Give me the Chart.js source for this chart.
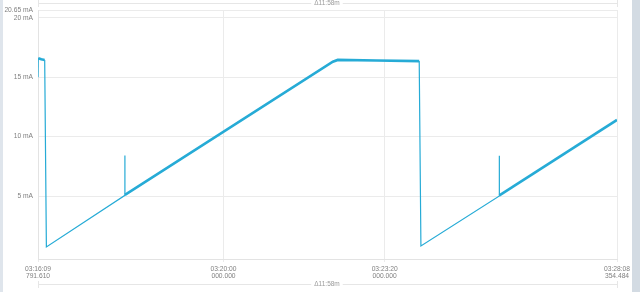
<!DOCTYPE html>
<html>
<head>
<meta charset="utf-8">
<script src="https://cdn.jsdelivr.net/npm/chart.js@4"></script>
<style>
html,body{margin:0;padding:0;background:#fff;width:640px;height:292px;overflow:hidden;}
#wrap{position:relative;width:640px;height:292px;}
#leftbar{position:absolute;left:0;top:0;width:3px;height:292px;background:#dfe5ec;}
#rightbar{position:absolute;left:632px;top:0;width:8px;height:292px;background:#d3dbe3;}
canvas{position:absolute;left:0;top:0;}
</style>
</head>
<body>
<div id="wrap">
<canvas id="c" width="640" height="292"></canvas>
<div id="leftbar"></div>
<div id="rightbar"></div>
</div>
<script>
// ---- data (time in seconds since midnight, current in mA) ----
const times = [11769.79, 11770.09, 11773.8, 11778.1, 11780.2,
               11877.5, 11877.6, 11877.7, 12135.7, 12141.8, 12189.8, 12242.9, 12245.0,
               12342.2, 12342.3, 12342.4, 12488.35];
const currents = [15.0, 16.6, 16.5, 16.45, 0.72,
                  5.05, 8.4, 5.1, 16.3, 16.45, 16.4, 16.35, 0.8,
                  5.0, 8.38, 5.05, 11.4];
const xTickValues = [11769.79161, 12000, 12200, 12488.354484];
const xTickLabels = [["03:16:09", "791.610"], ["03:20:00", "000.000"], ["03:23:20", "000.000"], ["03:28:08", "354.484"]];
const yTickValues = [5, 10, 15, 20, 20.65];
const rangeLabel = "Δ11:58m";

const FONT = "'Liberation Sans', Arial, sans-serif";
const GRID = '#ebebeb';

const rangeBars = {
  id: 'rangeBars',
  afterDraw(chart) {
    const {ctx, chartArea} = chart;
    const l = chartArea.left, r = chartArea.right;
    ctx.save();
    ctx.font = '6.5px ' + FONT;
    ctx.textAlign = 'center';
    ctx.textBaseline = 'middle';
    const tw = ctx.measureText(rangeLabel).width;
    const cx = 327;
    [3.5, 284.5].forEach(y => {
      ctx.strokeStyle = '#e6e6e6';
      ctx.lineWidth = 1;
      ctx.beginPath();
      ctx.moveTo(l, y); ctx.lineTo(cx - tw / 2 - 3, y);
      ctx.moveTo(cx + tw / 2 + 3, y); ctx.lineTo(r, y);
      ctx.moveTo(l + 0.5, y - 3.5); ctx.lineTo(l + 0.5, y + 3.5);
      ctx.moveTo(r + 0.5, y - 3.5); ctx.lineTo(r + 0.5, y + 3.5);
      ctx.stroke();
      ctx.fillStyle = '#9a9a9a';
      ctx.fillText(rangeLabel, cx, y);
    });
    ctx.restore();
  }
};

const thick = ctx => {
  const dx = ctx.p1.parsed.x - ctx.p0.parsed.x;
  return (dx > 1 && ctx.p0.parsed.y >= 4.9 && ctx.p1.parsed.y >= 4.9) ? 2.6 : 1.2;
};

new Chart(document.getElementById('c'), {
  type: 'line',
  data: {
    datasets: [{
      data: times.map((t, i) => ({x: t, y: currents[i]})),
      borderColor: '#26abd6',
      borderWidth: 1.2,
      borderJoinStyle: 'miter',
      pointRadius: 0,
      tension: 0,
      fill: false,
      segment: { borderWidth: thick }
    }]
  },
  options: {
    responsive: false,
    animation: false,
    events: [],
    layout: { padding: { top: 10, right: 23, left: 0, bottom: 0 } },
    plugins: { legend: { display: false }, tooltip: { enabled: false } },
    scales: {
      x: {
        type: 'linear',
        min: xTickValues[0],
        max: xTickValues[xTickValues.length - 1],
        afterBuildTicks: s => { s.ticks = xTickValues.map(v => ({value: v})); },
        afterFit: s => { s.height = 33; },
        grid: { color: GRID, tickLength: 3, drawTicks: true },
        border: { color: '#e3e3e3' },
        ticks: {
          autoSkip: false, maxRotation: 0, padding: 3,
          color: '#808080',
          font: { family: FONT, size: 6.7, lineHeight: 1.12 },
          callback: (v, i) => xTickLabels[i]
        }
      },
      y: {
        min: -0.3,
        max: 20.65,
        afterBuildTicks: s => { s.ticks = yTickValues.map(v => ({value: v})); },
        afterFit: s => { s.width = 38; },
        grid: { color: GRID, drawTicks: false },
        border: { color: '#e3e3e3' },
        ticks: {
          padding: 5,
          color: '#808080',
          font: { family: FONT, size: 6.7 },
          callback: v => v + ' mA'
        }
      }
    }
  },
  plugins: [rangeBars]
});
</script>
</body>
</html>
